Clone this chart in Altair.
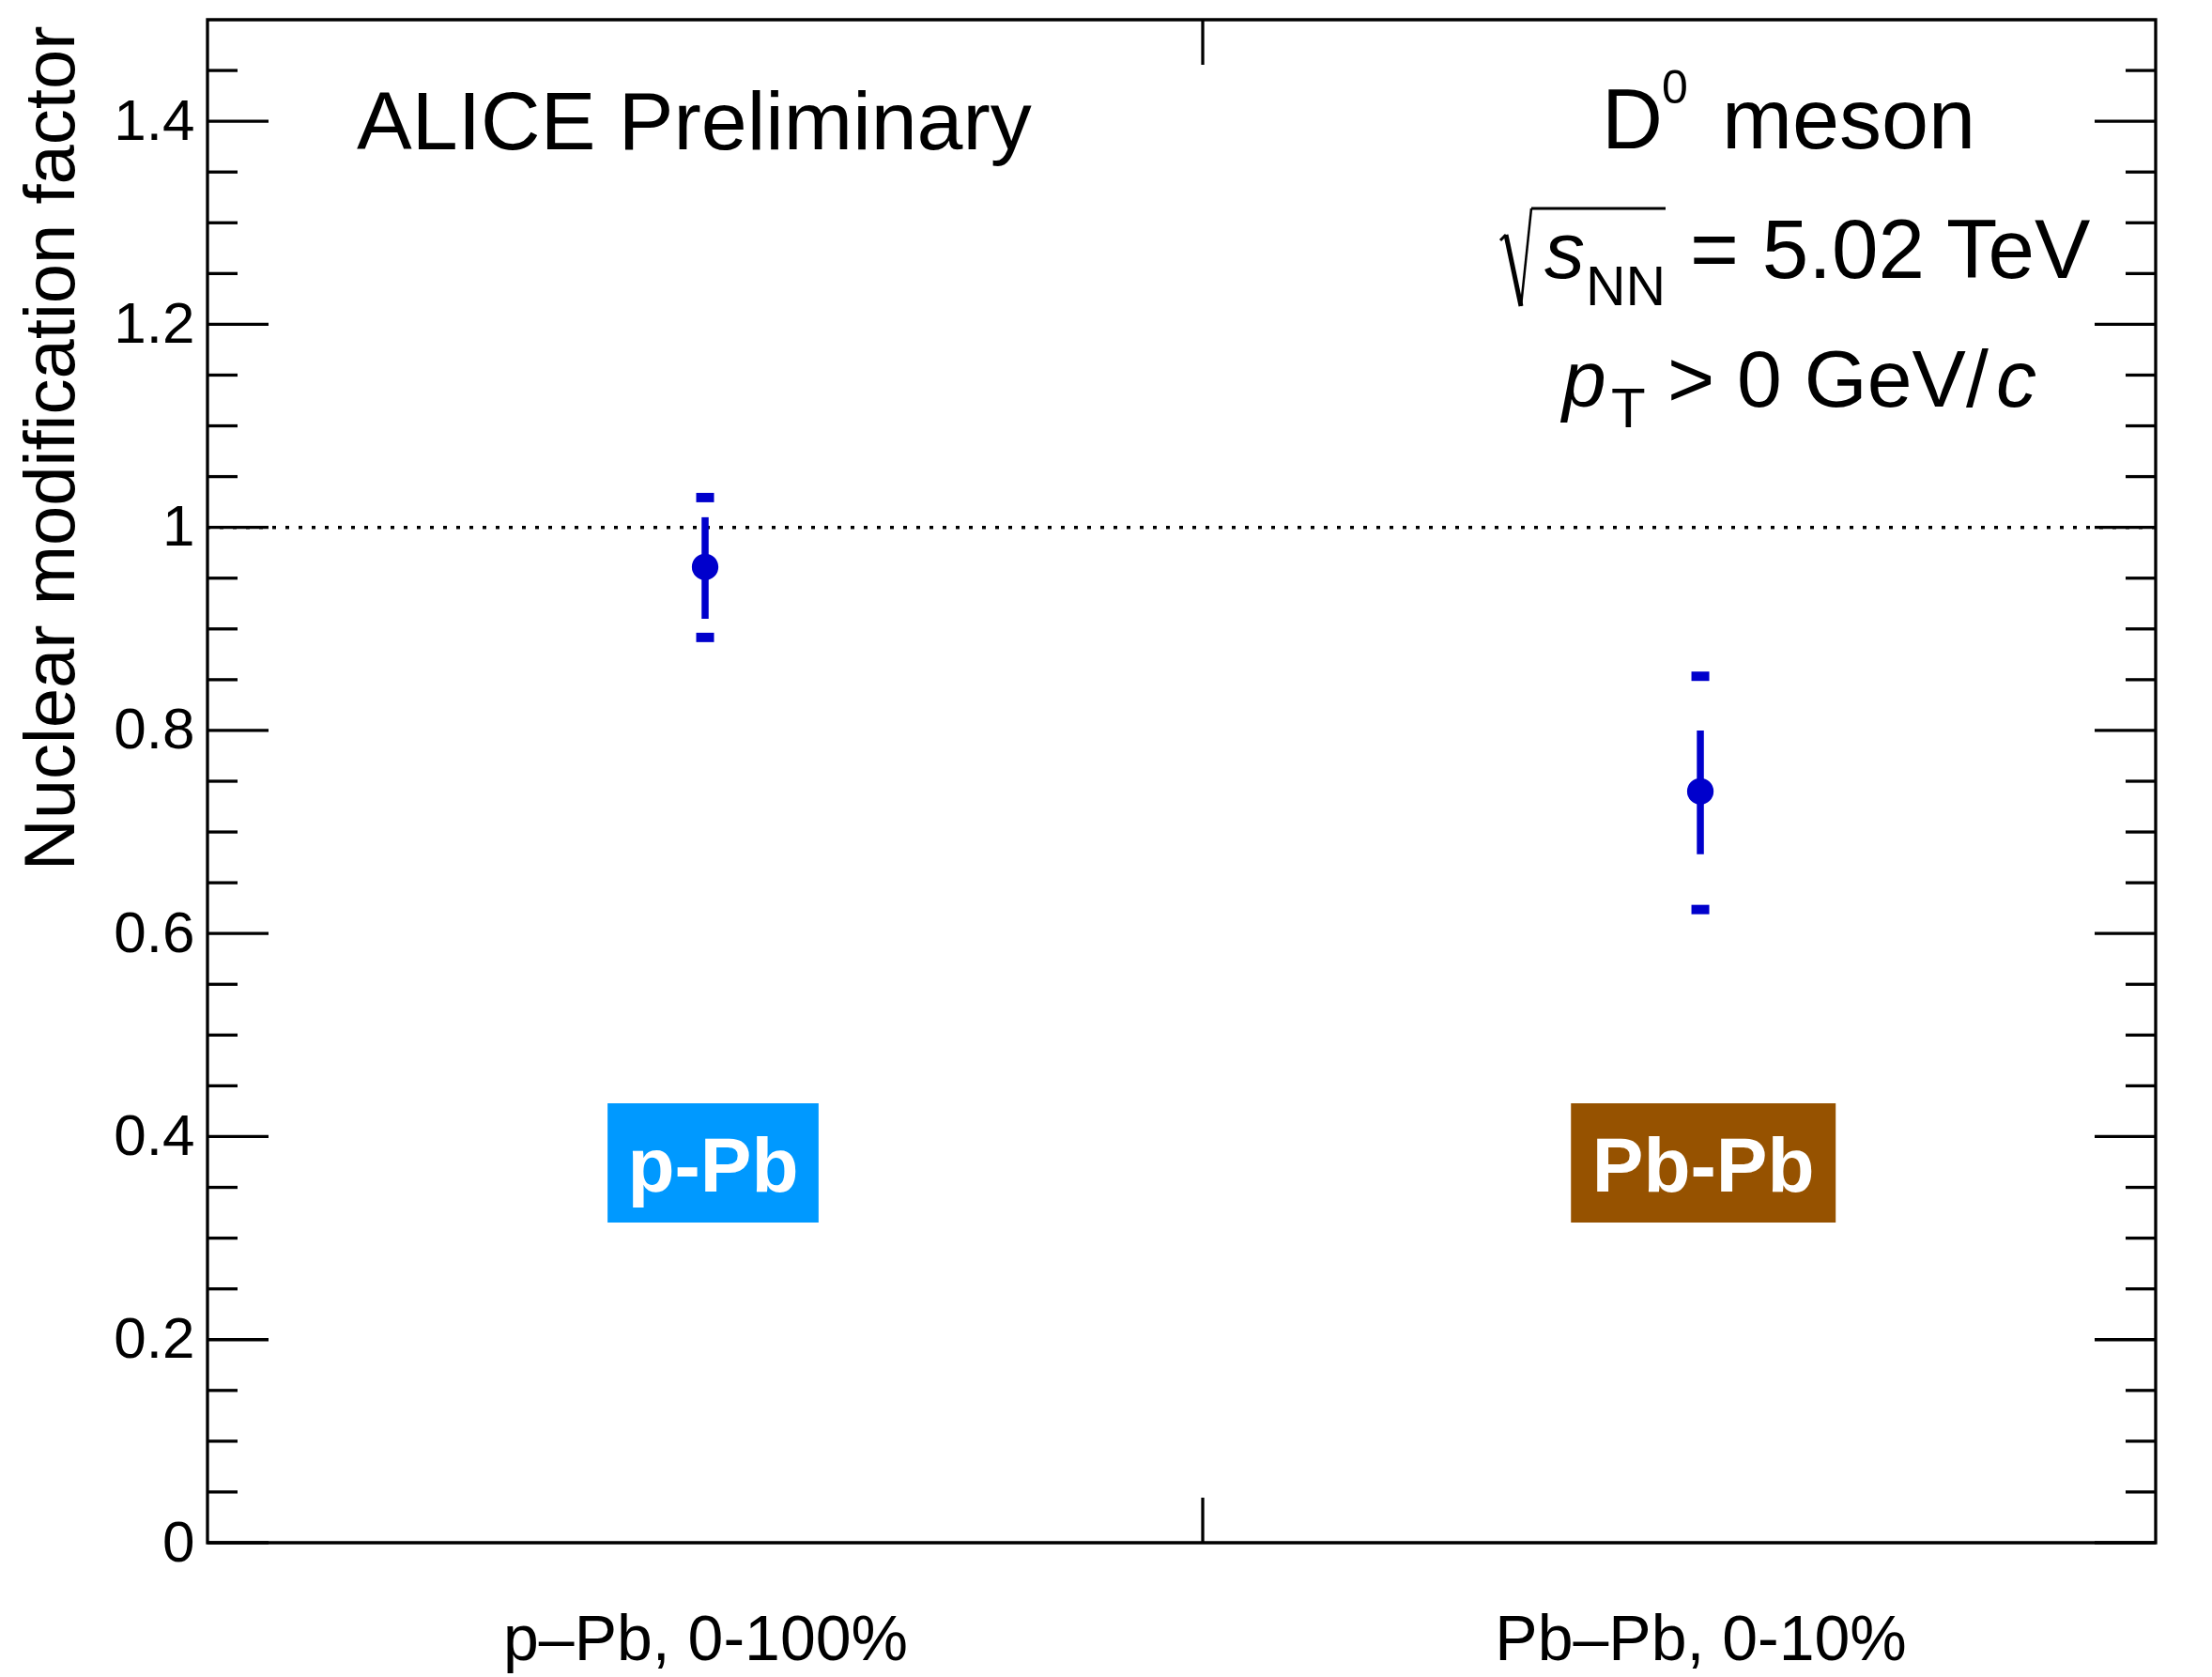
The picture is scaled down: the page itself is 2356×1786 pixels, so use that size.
import altair as alt
import pandas as pd

# ---- data ----
categories = ["p\u2013Pb, 0-100%", "Pb\u2013Pb, 0-10%"]
raa = [0.961, 0.740]
stat_lo = [0.910, 0.678]
stat_hi = [1.010, 0.800]
sys_lo = [0.887, 0.619]
sys_hi = [1.034, 0.858]

y_major = [0.0, 0.2, 0.4, 0.6, 0.8, 1.0, 1.2, 1.4]
y_minor = [0.05, 0.1, 0.15, 0.25, 0.3, 0.35, 0.45, 0.5, 0.55, 0.65, 0.7, 0.75,
           0.85, 0.9, 0.95, 1.05, 1.1, 1.15, 1.25, 1.3, 1.35, 1.45]
x_major = [1.0]
ref_line = [1.0]

system_labels = ["p-Pb", "Pb-Pb"]
system_colors = ["#0099FF", "#965200"]

# ---- layout (pixels / axis units) ----
W, H = 2075, 1622
X_DOMAIN = [0, 1.9575]
Y_DOMAIN = [0, 1.5]
FONT = "Liberation Sans"
BLUE = "#0000CC"

box_x0 = [0.402, 1.370]
box_x1 = [0.614, 1.636]
box_y0 = [0.3153, 0.3153]
box_y1 = [0.4328, 0.4328]
box_text_y = [0.346, 0.346]

df = pd.DataFrame({
    "cat": categories,
    "xpos": [i + 0.5 for i in range(len(categories))],
    "val": raa, "slo": stat_lo, "shi": stat_hi, "ylo": sys_lo, "yhi": sys_hi,
})
boxes = pd.DataFrame({
    "lab": system_labels, "col": system_colors,
    "x0": box_x0, "x1": box_x1, "y0": box_y0, "y1": box_y1, "ty": box_text_y,
})
boxes["tx"] = (boxes["x0"] + boxes["x1"]) / 2
major_df = pd.DataFrame({"v": y_major})
minor_df = pd.DataFrame({"v": y_minor})
xt_df = pd.DataFrame({"v": x_major})
ref_df = pd.DataFrame({"v": ref_line})

xs = alt.Scale(domain=X_DOMAIN, nice=False, zero=False)
ys = alt.Scale(domain=Y_DOMAIN, nice=False, zero=False)

label_expr = " : ".join(
    [f"datum.value == {i + 0.5} ? '{c}'" for i, c in enumerate(categories)]
) + " : ''"

x_axis = alt.Axis(values=[i + 0.5 for i in range(len(categories))], labelExpr=label_expr,
                  labelFontSize=68, labelBaseline="alphabetic", labelPadding=124, title="",
                  labelLimit=2000)
y_axis = alt.Axis(values=y_major, format="~g", labelFontSize=62, labelPadding=14,
                  title="Nuclear modification factor", titleFontSize=76,
                  titleAngle=270, titleAlign="right", titleBaseline="alphabetic",
                  titleX=-143, titleY=6, titleLimit=3000)

base = alt.Chart(df)

X = lambda f: alt.X(f, scale=xs, axis=x_axis)
Y = lambda f: alt.Y(f, scale=ys, axis=y_axis)

ref_rule = alt.Chart(ref_df).mark_rule(color="black", strokeWidth=3.5, strokeDash=[4, 10]).encode(
    y=Y("v:Q"))

stat = base.mark_rule(color=BLUE, strokeWidth=7.5).encode(
    x=X("xpos:Q"), y=Y("slo:Q"), y2="shi:Q")

sys_top = base.mark_tick(color=BLUE, orient="horizontal", thickness=10, size=19, yOffset=5,
                         opacity=1).encode(x=X("xpos:Q"), y=Y("yhi:Q"))
sys_bot = base.mark_tick(color=BLUE, orient="horizontal", thickness=10, size=19, yOffset=-5,
                         opacity=1).encode(x=X("xpos:Q"), y=Y("ylo:Q"))

pts = base.mark_point(filled=True, shape="circle", size=800, color=BLUE, opacity=1).encode(
    x=X("xpos:Q"), y=Y("val:Q"))

box_rect = alt.Chart(boxes).mark_rect().encode(
    x=X("x0:Q"), x2="x1:Q", y=Y("y0:Q"), y2="y1:Q",
    color=alt.Color("col:N", scale=None, legend=None))
box_text = alt.Chart(boxes).mark_text(font=FONT, fontSize=82, fontWeight="bold", color="white",
                                      align="center", baseline="alphabetic").encode(
    x=X("tx:Q"), y=Y("ty:Q"), text="lab:N")

# inward ticks (ROOT style)
tick_w = 3.3
def yticks(d, length):
    left = alt.Chart(d).mark_rule(color="black", strokeWidth=tick_w).encode(
        y=Y("v:Q"), x=alt.value(0), x2=alt.value(length))
    right = alt.Chart(d).mark_rule(color="black", strokeWidth=tick_w).encode(
        y=Y("v:Q"), x=alt.value(W - length), x2=alt.value(W))
    return [left, right]

xt_top = alt.Chart(xt_df).mark_rule(color="black", strokeWidth=tick_w).encode(
    x=X("v:Q"), y=alt.value(0), y2=alt.value(48))
xt_bot = alt.Chart(xt_df).mark_rule(color="black", strokeWidth=tick_w).encode(
    x=X("v:Q"), y=alt.value(H - 48), y2=alt.value(H))

# ---- text annotations (pixel positions relative to plot origin) ----
OX, OY = 221, 21
def txt(s, px, py, size, italic=False, align="left"):
    return alt.Chart(ref_df).mark_text(
        text=s, font=FONT, fontSize=size, fontStyle="italic" if italic else "normal",
        color="black", align=align, baseline="alphabetic").encode(
        x=alt.value(px - OX), y=alt.value(py - OY))

def seg(x1, y1, x2, y2, w):
    return alt.Chart(ref_df).mark_rule(color="black", strokeWidth=w).encode(
        x=alt.value(x1 - OX), y=alt.value(y1 - OY), x2=alt.value(x2 - OX), y2=alt.value(y2 - OY))

texts = [
    txt("ALICE Preliminary", 380, 159, 88),
    txt("D", 1706, 158, 90),
    txt("0", 1770, 110, 50),
    txt("meson", 1834, 158, 90),
    seg(1598, 256, 1604, 250, 3),
    seg(1604, 250, 1620, 326, 5),
    seg(1620, 326, 1631, 222, 2.5),
    seg(1631, 222, 1774, 222, 3),
    txt("s", 1645, 296, 86, italic=True),
    txt("NN", 1689, 325, 59),
    txt("= 5.02 TeV", 1800, 296, 89),
    txt("p", 1664, 433, 84, italic=True),
    txt("T", 1716, 455, 60),
    txt("> 0 GeV/", 1776, 433, 86),
    txt("c", 2126, 433, 86, italic=True),
]

layers = ([ref_rule, box_rect, box_text] + yticks(major_df, 65) + yticks(minor_df, 32)
          + [xt_top, xt_bot, stat, sys_top, sys_bot, pts] + texts)

chart = alt.layer(*layers).properties(
    width=W, height=H, autosize="none",
    padding={"left": OX, "top": OY, "right": 2356 - OX - W, "bottom": 1786 - OY - H},
    background="white",
).configure_view(stroke="black", strokeWidth=3.3).configure_axis(
    ticks=False, tickSize=0, domain=False, grid=False,
    labelFont=FONT, labelColor="black", titleFont=FONT, titleColor="black",
    titleFontWeight="normal", labelOverlap=False, labelFlush=False,
)

chart.save("out.html", embed_options={"renderer": "svg", "actions": False})
